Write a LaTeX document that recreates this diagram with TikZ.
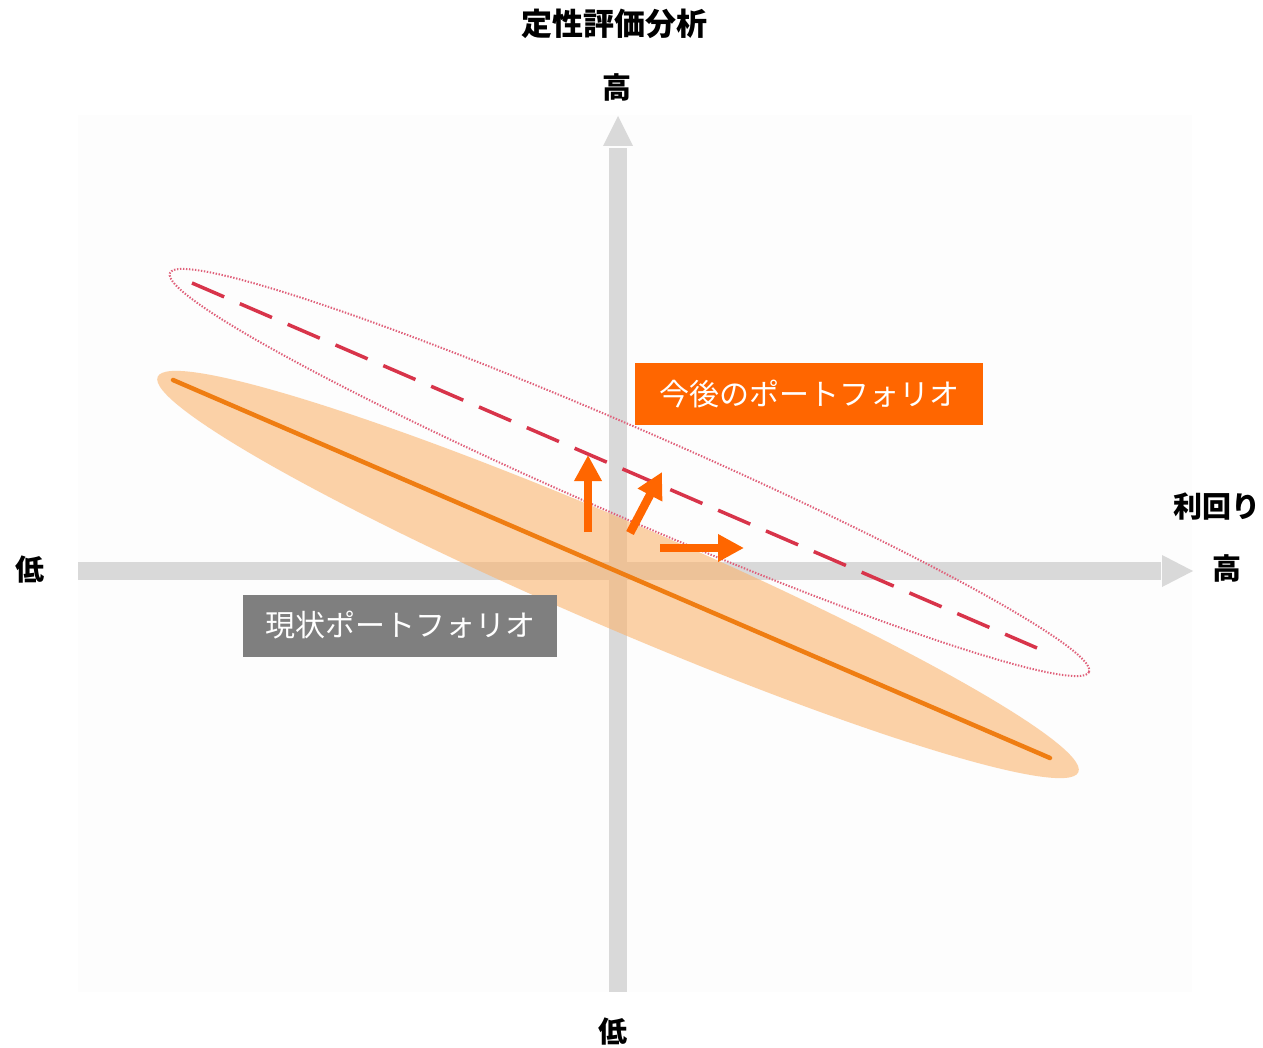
\documentclass[tikz,border=0pt]{standalone}
\usepackage{fontspec}
\newfontfamily\jp{Noto Sans CJK JP}
\usetikzlibrary{arrows.meta}
\definecolor{axisgray}{HTML}{D9D9D9}
\definecolor{bgpanel}{HTML}{FDFDFD}
\definecolor{boxorange}{HTML}{FF6600}
\definecolor{boxgray}{HTML}{7F7F7F}
\definecolor{lineorange}{HTML}{EF7D12}
\definecolor{ellorange}{HTML}{FBB46E}
\definecolor{dashred}{HTML}{D8344A}
\definecolor{dotred}{HTML}{E0607A}
\definecolor{arroworange}{HTML}{FF6600}
\tikzset{
  axlabel/.style={inner sep=0pt, font=\jp\bfseries\fontsize{29}{34}\selectfont, text=black},
  boxlabel/.style={inner sep=0pt, minimum height=62pt, font=\jp\fontsize{30}{36}\selectfont, text=white},
  moveArrow/.style={draw=arroworange, line width=8.5pt, -{Triangle[length=26pt,width=26pt]}},
}
\begin{document}
\begin{tikzpicture}[x=1pt,y=-1pt]
\useasboundingbox (0,0) rectangle (1263,1048);
\fill[white] (0,0) rectangle (1263,1048);
% plot panel
\fill[bgpanel] (78,115) rectangle (1192,992);
% axes
\coordinate (vbot) at (618,992);
\coordinate (vtop) at (618,146);
\coordinate (hleft) at (78,571);
\coordinate (hright) at (1162,571);
\fill[axisgray] (609,992) rectangle (627,148);
\fill[axisgray] (603,146) -- (633,146) -- (618,116) -- cycle;
\fill[axisgray] (78,562) rectangle (1161,580);
\fill[axisgray] (1162,555) -- (1162,587) -- (1193,571) -- cycle;
% current portfolio ellipse
\fill[ellorange, fill opacity=0.6, shift={(618,574.5)}, rotate=-23.24] (0,0) ellipse [x radius=501, y radius=53];
\coordinate (cA) at (173,380);
\coordinate (cB) at (1050,758);
\draw[lineorange, line width=4.5pt, line cap=round] (cA) -- (cB);
% future portfolio ellipse
\draw[dotred, line width=2pt, dash pattern=on 1.4pt off 1.6pt, shift={(629.5,472.5)}, rotate=-23.47] (0,0) ellipse [x radius=501, y radius=44];
\coordinate (fA) at (192,283);
\coordinate (fB) at (1037,648);
\draw[dashred, line width=3.5pt, dash pattern=on 35pt off 17.1pt] (fA) -- (fB);
% movement arrows
\coordinate (a1s) at (588,532);
\coordinate (a1e) at (588,455);
\coordinate (a2s) at (630,533);
\coordinate (a2e) at (662,472);
\coordinate (a3s) at (660,548);
\coordinate (a3e) at (744,548);
\draw[moveArrow] (a1s) -- (a1e);
\draw[moveArrow] (a2s) -- (a2e);
\draw[moveArrow] (a3s) -- (a3e);
% boxes
\node[boxlabel, fill=boxorange, minimum width=348pt] (future) at (809,394) {今後のポートフォリオ};
\node[boxlabel, fill=boxgray, minimum width=314pt] (current) at (400,625.5) {現状ポートフォリオ};
% axis labels
\node[axlabel, font=\jp\bfseries\fontsize{31}{36}\selectfont] (title) at (614.5,24) {定性評価分析};
\node[axlabel] (yhigh) at (617,87.5) {高};
\node[axlabel] (ylow) at (612.5,1032) {低};
\node[axlabel] (xlow) at (29.5,570) {低};
\node[axlabel] (xhigh) at (1227,568) {高};
\node[axlabel] (xtitle) at (1217,507) {利回り};
\end{tikzpicture}
\end{document}
